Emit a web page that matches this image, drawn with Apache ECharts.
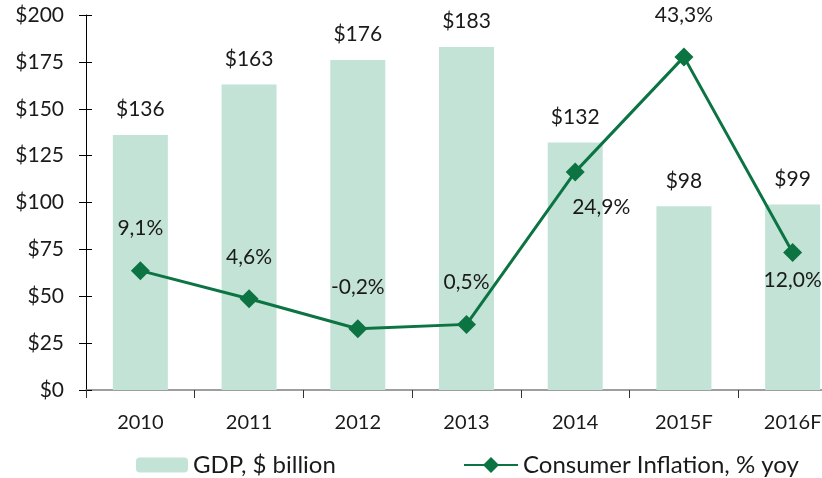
<!DOCTYPE html>
<html>
<head>
<meta charset="utf-8">
<script src="https://cdn.jsdelivr.net/npm/echarts@6/dist/echarts.min.js"></script>
<style>html,body{margin:0;padding:0;background:#fff}#c{width:822px;height:478px}</style>
</head>
<body>
<div id="c"></div>
<script>
const categories = ['2010', '2011', '2012', '2013', '2014', '2015F', '2016F'];
const gdp = [136, 163, 176, 183, 132, 98, 99];
const inflation = [9.1, 4.6, -0.2, 0.5, 24.9, 43.3, 12.0];
const yTicks = [0, 25, 50, 75, 100, 125, 150, 175, 200];

const FONT = 'Lato';
const chart = echarts.init(document.getElementById('c'));
const fmtPct = v => v.toFixed(1).replace('.', ',') + '%';
const belowIdx = {4: [26, 35], 6: [0, 28]};

chart.setOption({
  animation: false,
  textStyle: {fontFamily: FONT, color: '#1a1a1a'},
  grid: {left: 86, top: 15, height: 375, width: 761, outerBoundsMode: 'none', containLabel: false},
  legend: [
    {data: ['GDP, $ billion'], left: 131, top: 448, itemWidth: 52, itemHeight: 15, itemGap: 5,
     textStyle: {fontFamily: FONT, fontSize: 24, color: '#1a1a1a'}},
    {data: ['Consumer Inflation, % yoy'], left: 458, top: 448, itemWidth: 54, itemHeight: 20,
     textStyle: {fontFamily: FONT, fontSize: 24, color: '#1a1a1a'}}
  ],
  xAxis: {
    type: 'category', data: categories,
    axisLine: {lineStyle: {color: '#7f7f7f', width: 1.5}},
    axisTick: {show: true, length: 8, lineStyle: {color: '#333'}},
    axisLabel: {fontFamily: FONT, fontSize: 20, color: '#1a1a1a', margin: 23}
  },
  yAxis: [
    {type: 'value', min: 0, max: 200, interval: 25, splitLine: {show: false},
     axisLine: {show: true, lineStyle: {color: '#000'}},
     axisTick: {show: true, length: 7, lineStyle: {color: '#000'}},
     axisLabel: {fontFamily: FONT, fontSize: 21, color: '#1a1a1a', margin: 22,
       formatter: v => yTicks.includes(v) ? '$' + v : ''}},
    {type: 'value', min: -10, max: 50, show: false, splitLine: {show: false}},
    {type: 'value', min: 0, max: 200, interval: 25, position: 'left', splitLine: {show: false},
     axisLine: {show: false}, axisLabel: {show: false},
     axisTick: {show: true, inside: true, length: 6, lineStyle: {color: '#000'}}}
  ],
  series: [
    {name: 'GDP, $ billion', type: 'bar', data: gdp, barWidth: 55, yAxisIndex: 0,
     itemStyle: {color: '#c3e3d6'},
     label: {show: true, position: 'top', distance: 15, fontFamily: FONT, fontSize: 21, color: '#1a1a1a',
       formatter: p => '$' + p.value}},
    {name: 'Consumer Inflation, % yoy', type: 'line', yAxisIndex: 1,
     data: inflation.map((v, i) => {
       const o = {value: v};
       if (belowIdx[i]) {
         o.label = {position: 'inside', offset: belowIdx[i]};
       }
       return o;
     }),
     symbol: 'diamond', symbolSize: 19, z: 5,
     lineStyle: {color: '#0b7442', width: 3},
     itemStyle: {color: '#0b7442'},
     label: {show: true, position: 'top', distance: 22, fontFamily: FONT, fontSize: 21, color: '#1a1a1a',
       formatter: p => fmtPct(p.value)}}
  ]
});
</script>
</body>
</html>
